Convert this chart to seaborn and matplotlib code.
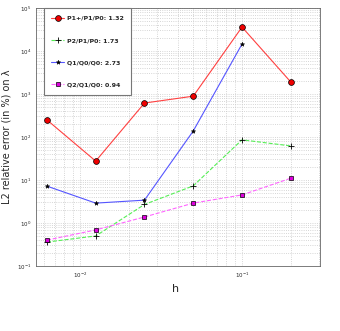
import numpy as np
import pandas as pd
import seaborn as sns
import matplotlib.pyplot as plt

h = [1/160, 1/80, 1/40, 1/20, 1/10, 1/5]
p1plus = [250, 27.5, 616, 890, 36000, 1900]
p2 = [0.36, 0.50, 2.7, 7.3, 86, 62]
q1 = [7.2, 2.9, 3.4, 138, 14500]
q2 = [0.40, 0.69, 1.38, 2.9, 4.5, 11]

sns.set_style("white")
plt.rcParams['font.family'] = ['DejaVu Sans']

fig = plt.figure(figsize=(3.4, 3.31), dpi=100)
ax = fig.add_axes([36/340, 1 - 266/331, 284/340, 258/331])

sns.lineplot(x=h, y=p1plus, ax=ax, color='#ff4040', lw=0.8, marker='o', ms=4.2,
             mfc='#ee0000', mec='black', mew=0.5, label='P1+/P1/P0: 1.32')
sns.lineplot(x=h, y=p2, ax=ax, color='#55ee55', lw=0.8, ls='--', marker='+', ms=4,
             mec='black', mew=0.6, label='P2/P1/P0: 1.73')
sns.lineplot(x=h[:5], y=q1, ax=ax, color='#5555ff', lw=0.8, marker='*', ms=3.2,
             mfc='black', mec='black', mew=0.4, label='Q1/Q0/Q0: 2.73')
sns.lineplot(x=h, y=q2, ax=ax, color='#ff66ff', lw=0.8, ls='--', marker='s', ms=3.3,
             mfc='#dd00dd', mec='black', mew=0.5, label='Q2/Q1/Q0: 0.94')

ax.set_xscale('log')
ax.set_yscale('log')
ax.set_xlim(0.00535, 0.303)
ax.set_ylim(1e-1, 1e5)
ax.grid(which='both', linestyle=':', color='#c8c8c8', linewidth=0.6)
ax.tick_params(which='both', direction='in', labelsize=4, length=2, width=0.5)
for s in ax.spines.values():
    s.set_linewidth(0.6)
    s.set_color('#666666')

ax.set_xlabel('h', fontsize=8)
ax.set_ylabel('L2 relative error (in %) on λ', fontsize=7)
ax.xaxis.set_label_coords(0.49, -0.07)
ax.yaxis.set_label_coords(-0.085, 0.5)

leg = ax.legend(loc='upper left', bbox_to_anchor=(0.028, 1.0), borderaxespad=0,
                fontsize=4.5, labelspacing=2.7, handlelength=2.0, handletextpad=0.5,
                borderpad=1.2, fancybox=False, edgecolor='#777777', framealpha=1)
leg.get_frame().set_linewidth(0.8)
for t in leg.get_texts():
    t.set_fontweight('semibold')

fig.savefig('out.png', dpi=100)
